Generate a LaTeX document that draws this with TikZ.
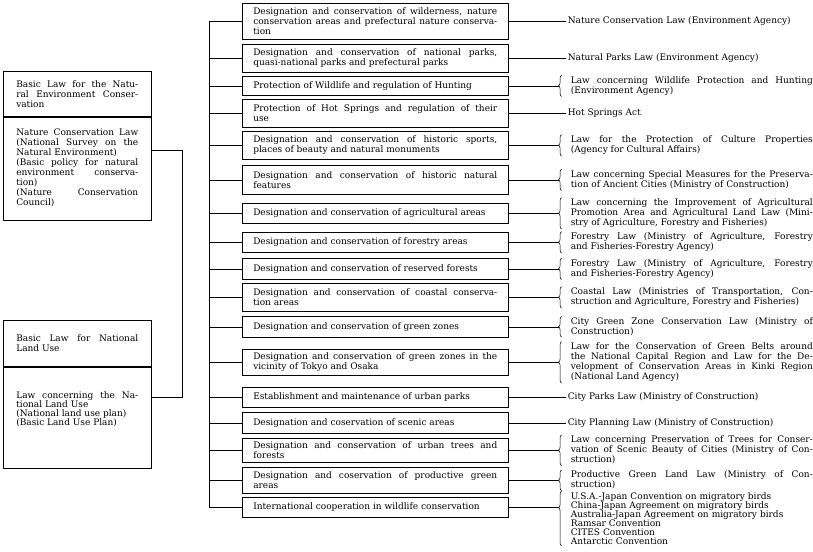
\documentclass[tikz,border=0pt]{standalone}
\usepackage{fontspec}
\setmainfont{DejaVu Serif}
\usetikzlibrary{positioning, decorations.pathreplacing}

\begin{document}
\begin{tikzpicture}[
        x=1pt, y=-1pt, line width=0.55pt,
        lbox/.style={rectangle, draw, anchor=north west, text width=122pt, inner xsep=13pt, inner ysep=1pt, align=justify, font=\fontsize{9}{10}\selectfont},
        mbox/.style={rectangle, draw, anchor=north west, minimum width=266pt, text width=244pt, inner xsep=11pt, inner ysep=1pt, align=justify, font=\fontsize{9}{10}\selectfont},
        law/.style={text width=242pt, inner xsep=0pt, inner ysep=1pt, align=justify, font=\fontsize{9}{10}\selectfont},
        brc/.style={decorate, decoration={brace, amplitude=3pt}},
        node distance=59pt
        ]
        \useasboundingbox (0,0) rectangle (813,551);

        % left column
        \node[lbox, minimum height=45pt] (nathead) at (3,71) {Basic Law for the Natu-\linebreak ral Environment Conser-\linebreak vation};
        \node[lbox, minimum height=103pt, below=0pt of nathead] (natbody) {Nature Conservation Law\linebreak (National Survey on the\linebreak Natural Environment)\newline (Basic policy for natural\linebreak environment conserva-\linebreak tion)\newline (Nature Conservation\linebreak Council)};
        \node[lbox, minimum height=46pt] (landhead) at (3,320) {Basic Law for National\linebreak Land Use};
        \node[lbox, minimum height=101pt, below=0pt of landhead] (landbody) {};
        \node[lbox, draw=none, anchor=north, inner ysep=0pt, font=\fontsize{9}{9}\selectfont] (landtext) at ([yshift=-25pt]landbody.north) {Law concerning the Na-\linebreak tional Land Use\newline (National land use plan)\newline (Basic Land Use Plan)};

        % middle column
        \node[mbox, minimum height=36pt] (m1) at (242,3) {Designation and conservation of wilderness, nature\linebreak conservation areas and prefectural nature conserva-\linebreak tion};
        \node[mbox, minimum height=28pt] (m2) at (242,44) {Designation and conservation of national parks,\linebreak quasi-national parks and prefectural parks};
        \node[mbox, minimum height=19pt] (m3) at (242,76) {Protection of Wildlife and regulation of Hunting};
        \node[mbox, minimum height=28pt] (m4) at (242,99) {Protection of Hot Springs and regulation of their\linebreak use};
        \node[mbox, minimum height=28pt] (m5) at (242,131) {Designation and conservation of historic sports,\linebreak places of beauty and natural monuments};
        \node[mbox, minimum height=29pt] (m6) at (242,165) {Designation and conservation of historic natural\linebreak features};
        \node[mbox, minimum height=20pt] (m7) at (242,203) {Designation and conservation of agricultural areas};
        \node[mbox, minimum height=20pt] (m8) at (242,232) {Designation and conservation of forestry areas};
        \node[mbox, minimum height=21pt] (m9) at (242,258) {Designation and conservation of reserved forests};
        \node[mbox, minimum height=28pt] (m10) at (242,283) {Designation and conservation of coastal conserva-\linebreak tion areas};
        \node[mbox, minimum height=21pt] (m11) at (242,316) {Designation and conservation of green zones};
        \node[mbox, minimum height=26pt] (m12) at (242,349) {Designation and conservation of green zones in the\linebreak vicinity of Tokyo and Osaka};
        \node[mbox, minimum height=20pt] (m13) at (242,387) {Establishment and maintenance of urban parks};
        \node[mbox, minimum height=21pt] (m14) at (242,412) {Designation and coservation of scenic areas};
        \node[mbox, minimum height=24pt] (m15) at (242,438) {Designation and conservation of urban trees and\linebreak forests};
        \node[mbox, minimum height=26pt] (m16) at (242,467) {Designation and coservation of productive green\linebreak areas};
        \node[mbox, minimum height=20pt] (m17) at (242,497) {International cooperation in wildlife conservation};

        % right column
        \node[law, right=of m1] (r1) {Nature Conservation Law (Environment Agency)};
        \node[law, right=of m2] (r2) {Natural Parks Law (Environment Agency)};
        \node[law, right=62pt of m3] (r3) {Law concerning Wildlife Protection and Hunting\linebreak (Environment Agency)};
        \node[law, right=of m4] (r4) {Hot Springs Act};
        \node[law, right=62pt of m5] (r5) {Law for the Protection of Culture Properties\linebreak (Agency for Cultural Affairs)};
        \node[law, right=62pt of m6] (r6) {Law concerning Special Measures for the Preserva-\linebreak tion of Ancient Cities (Ministry of Construction)};
        \node[law, right=62pt of m7] (r7) {Law concerning the Improvement of Agricultural\linebreak Promotion Area and Agricultural Land Law (Mini-\linebreak stry of Agriculture, Forestry and Fisheries)};
        \node[law, right=62pt of m8] (r8) {Forestry Law (Ministry of Agriculture, Forestry\linebreak and Fisheries-Forestry Agency)};
        \node[law, right=62pt of m9] (r9) {Forestry Law (Ministry of Agriculture, Forestry\linebreak and Fisheries-Forestry Agency)};
        \node[law, right=62pt of m10] (r10) {Coastal Law (Ministries of Transportation, Con-\linebreak struction and Agriculture, Forestry and Fisheries)};
        \node[law, right=62pt of m11] (r11) {City Green Zone Conservation Law (Ministry of\linebreak Construction)};
        \node[law, right=62pt of m12] (r12) {Law for the Conservation of Green Belts around\linebreak the National Capital Region and Law for the De-\linebreak velopment of Conservation Areas in Kinki Region\linebreak (National Land Agency)};
        \node[law, right=of m13] (r13) {City Parks Law (Ministry of Construction)};
        \node[law, right=of m14] (r14) {City Planning Law (Ministry of Construction)};
        \node[law, right=62pt of m15] (r15) {Law concerning Preservation of Trees for Conser-\linebreak vation of Scenic Beauty of Cities (Ministry of Con-\linebreak struction)};
        \node[law, right=62pt of m16] (r16) {Productive Green Land Law (Ministry of Con-\linebreak struction)};
        \node[law, align=left, anchor=north west, font=\fontsize{9}{9}\selectfont] (r17) at ([xshift=62pt, yshift=16pt]m17.east) {U.S.A.-Japan Convention on migratory birds\\ China-Japan Agreement on migratory birds\\ Australia-Japan Agreement on migratory birds\\ Ramsar Convention\\ CITES Convention\\ Antarctic Convention};

        % left connector
        \draw ([yshift=18pt]natbody.east) -| ([xshift=31pt, yshift=20pt]landbody.east) -- ([yshift=20pt]landbody.east);

        % bus to middle boxes
        \coordinate (bus) at (209,0);
        \draw (bus |- m1.west) -- (bus |- m17.west);
        \draw (bus |- m1.west) -- (m1.west);
        \draw (bus |- m2.west) -- (m2.west);
        \draw (bus |- m3.west) -- (m3.west);
        \draw (bus |- m4.west) -- (m4.west);
        \draw (bus |- m5.west) -- (m5.west);
        \draw (bus |- m6.west) -- (m6.west);
        \draw (bus |- m7.west) -- (m7.west);
        \draw (bus |- m8.west) -- (m8.west);
        \draw (bus |- m9.west) -- (m9.west);
        \draw (bus |- m10.west) -- (m10.west);
        \draw (bus |- m11.west) -- (m11.west);
        \draw (bus |- m12.west) -- (m12.west);
        \draw (bus |- m13.west) -- (m13.west);
        \draw (bus |- m14.west) -- (m14.west);
        \draw (bus |- m15.west) -- (m15.west);
        \draw (bus |- m16.west) -- (m16.west);
        \draw (bus |- m17.west) -- (m17.west);

        % middle boxes to laws
        \draw (m1.east) -- ([xshift=-2pt]r1.west);
        \draw (m2.east) -- ([xshift=-2pt]r2.west);
        \draw (m3.east) -- ([xshift=-12pt]r3.west);
        \draw (m4.east) -- ([xshift=-2pt]r4.west);
        \draw (m5.east) -- ([xshift=-12pt]r5.west);
        \draw (m6.east) -- ([xshift=-12pt]r6.west);
        \draw (m7.east) -- ([xshift=-12pt]r7.west);
        \draw (m8.east) -- ([xshift=-12pt]r8.west);
        \draw (m9.east) -- ([xshift=-12pt]r9.west);
        \draw (m10.east) -- ([xshift=-12pt]r10.west);
        \draw (m11.east) -- ([xshift=-12pt]r11.west);
        \draw (m12.east) -- ([xshift=-12pt]r12.west);
        \draw (m13.east) -- ([xshift=-2pt]r13.west);
        \draw (m14.east) -- ([xshift=-2pt]r14.west);
        \draw (m15.east) -- ([xshift=-12pt]r15.west);
        \draw (m16.east) -- ([xshift=-12pt]r16.west);
        \draw (m17.east) -- ([xshift=-12pt]r17.west |- m17.east);

        % braces
        \draw[brc] ([xshift=-9pt]r3.south west) -- ([xshift=-9pt]r3.north west);
        \draw[brc] ([xshift=-9pt]r5.south west) -- ([xshift=-9pt]r5.north west);
        \draw[brc] ([xshift=-9pt]r6.south west) -- ([xshift=-9pt]r6.north west);
        \draw[brc] ([xshift=-9pt]r7.south west) -- ([xshift=-9pt]r7.north west);
        \draw[brc] ([xshift=-9pt]r8.south west) -- ([xshift=-9pt]r8.north west);
        \draw[brc] ([xshift=-9pt]r9.south west) -- ([xshift=-9pt]r9.north west);
        \draw[brc] ([xshift=-9pt]r10.south west) -- ([xshift=-9pt]r10.north west);
        \draw[brc] ([xshift=-9pt]r11.south west) -- ([xshift=-9pt]r11.north west);
        \draw[brc] ([xshift=-9pt]r12.south west) -- ([xshift=-9pt]r12.north west);
        \draw[brc] ([xshift=-9pt]r15.south west) -- ([xshift=-9pt]r15.north west);
        \draw[brc] ([xshift=-9pt]r16.south west) -- ([xshift=-9pt]r16.north west);
        \draw[brc, decoration={aspect=0.7}] ([xshift=-9pt]r17.south west) -- ([xshift=-9pt]r17.north west);
    \end{tikzpicture}
\end{document}
